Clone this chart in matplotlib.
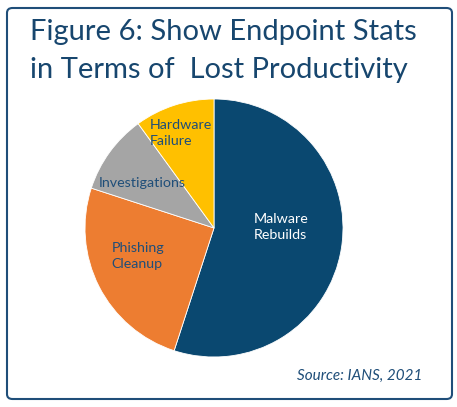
import numpy as np
import matplotlib
matplotlib.use("Agg")
import matplotlib.pyplot as plt
from matplotlib.patches import FancyBboxPatch

# Slice data (clockwise from 12 o'clock)
categories = ["Malware\nRebuilds", "Phishing\nCleanup", "Investigations", "Hardware\nFailure"]
shares = [55, 25, 10, 10]
colors = ["#0A4870", "#ED7D31", "#A5A5A5", "#FFC000"]
label_colors = ["white", "#1F4E79", "#1F4E79", "#1F4E79"]
label_radius = [0.52, 0.63, 0.66, 0.78]
label_turn = [10, -7, 4, 1]  # small angular nudge in degrees

title = "Figure 6: Show Endpoint Stats\nin Terms of  Lost Productivity"
source = "Source: IANS, 2021"

W, H = 457, 407
fig = plt.figure(figsize=(W / 100, H / 100), dpi=100)
fig.patch.set_facecolor("white")

# Rounded frame
frame = FancyBboxPatch((7 / W, 8 / H), 445 / W, 391 / H,
                       boxstyle="round,pad=0,rounding_size=0.012",
                       transform=fig.transFigure, fill=False,
                       edgecolor="#1F4E79", linewidth=1.5)
fig.patches.append(frame)

fig.text(30 / W, 1 - 19 / H, title, ha="left", va="top",
         fontsize=21, family="Lato", color="#17466E", linespacing=1.55)

# Pie
cx, cy, r = 214, H - 228, 129
ax = fig.add_axes([(cx - r) / W, (cy - r) / H, 2 * r / W, 2 * r / H])
wedges, _ = ax.pie(shares, colors=colors, startangle=90, counterclock=False,
                   wedgeprops=dict(edgecolor="white", linewidth=0.6))
ax.set_xlim(-1, 1)
ax.set_ylim(-1, 1)
ax.set_aspect("equal")
ax.axis("off")

for w, lab, c, d, t in zip(wedges, categories, label_colors, label_radius, label_turn):
    mid = np.deg2rad((w.theta1 + w.theta2) / 2 + t)
    ax.text(d * np.cos(mid), d * np.sin(mid), lab, ha="center", va="center",
            multialignment="left", fontsize=10.3, family="Lato", color=c,
            linespacing=1.35)

fig.text(422 / W, 1 - 376 / H, source, ha="right", va="center",
         fontsize=11, family="Lato", style="italic", color="#1F4E79")

fig.savefig("out.png", dpi=100)
